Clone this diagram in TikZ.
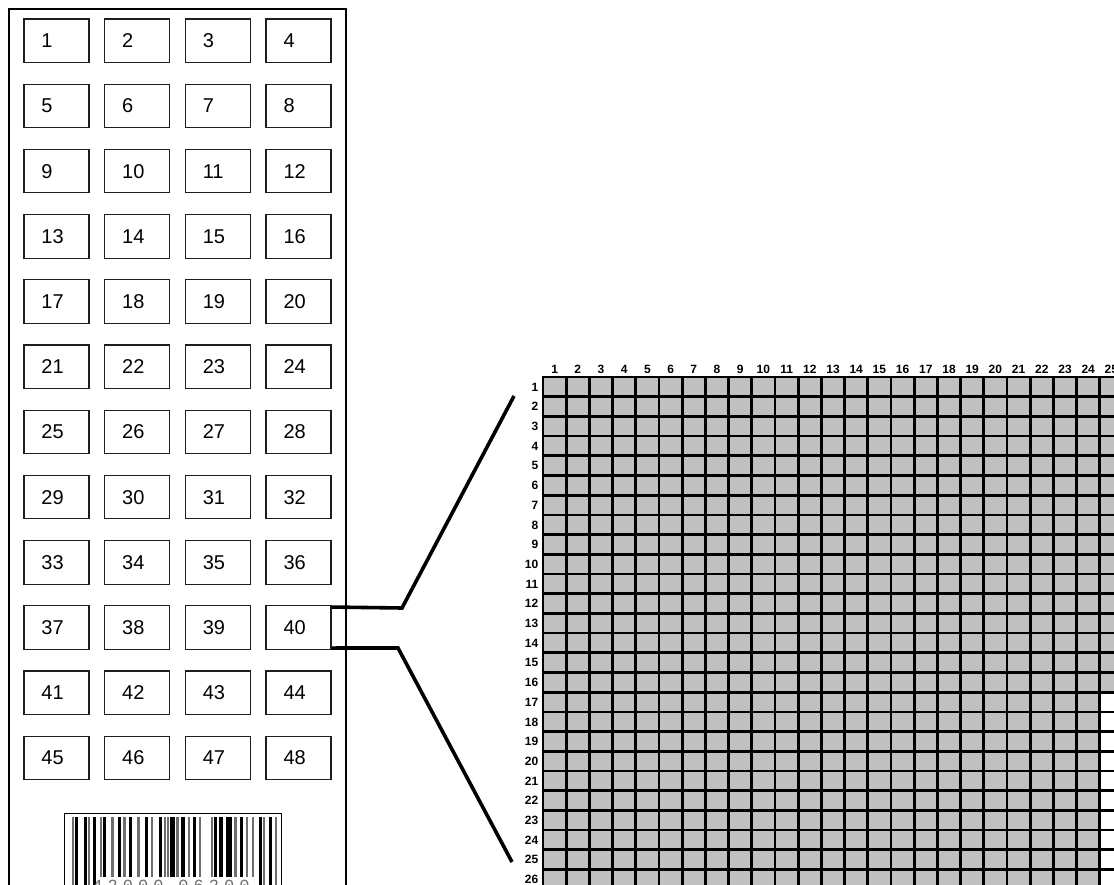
\documentclass[tikz,border=0pt]{standalone}
\usepackage{fontspec}
\setmainfont{Liberation Sans}
\newfontfamily\bcfont[LetterSpace=30]{Liberation Mono}
\definecolor{cellgray}{RGB}{192,192,192}
\definecolor{bargray}{RGB}{110,110,110}
\definecolor{boxline}{RGB}{30,30,30}
\begin{document}
\begin{tikzpicture}[x=1pt,y=-1pt,
  box/.style={draw=boxline, line width=1.1pt, minimum width=65pt, minimum height=43.5pt,
    inner xsep=17.5pt, inner ysep=0pt, text width=30pt, align=left,
    font=\fontsize{20}{24}\selectfont},
  glabel/.style={font=\bfseries\fontsize{12}{14}\selectfont, inner sep=0pt},
  gridline/.style={line width=2.7pt, black},
  conn/.style={line width=3.6pt, line join=miter, line cap=butt},
  frame/.style={line width=1.3pt},
  bctext/.style={font=\bcfont\fontsize{17}{19}\selectfont, text=bargray, inner sep=0pt, anchor=base}]
\useasboundingbox (0,0) rectangle (1114,885);
\begin{scope}
\clip (0,0) rectangle (1114,885);
% outer panel
\draw[frame] (9,900) -- (9,9) -- (346,9) -- (346,900);
% boxes 1..48
\foreach \r in {0,...,11} {
  \foreach \c in {0,...,3} {
    \pgfmathtruncatemacro\n{\r*4+\c+1}
    \node[box] (b\n) at ({56.5+\c*80.67},{40.75+\r*65.2}) {\n};
  }
}
% barcode
\draw[line width=0.9pt] (64,900) -- (64,813) -- (281,813) -- (281,900);
\foreach \x/\w/\col in {71.5/2.5/bargray,75/2.5/black,83.5/3.5/black,87.5/2/bargray,93/3/black,
  99.5/2.5/bargray,103/3/black,111/2.5/bargray,118/3/black,123/2.5/bargray,129/3/black,
  137/2.5/bargray,144.5/3/black,150.5/2.5/bargray,158.5/3.5/black,163.5/2/bargray,166.5/2/bargray,
  169.5/5/black,176/2.5/bargray,180.5/4.5/black,187.5/2.5/bargray,192.5/3/black,198.5/2/bargray,
  210.5/2.5/bargray,214/3/black,218.5/4/black,225.5/6/black,233.5/3/bargray,239.5/3/black,
  245.5/2.5/bargray,251.5/2/bargray,258.5/3/black,263/2/bargray,268.5/3/black,274.5/2.5/bargray}
  \fill[\col] (\x,817) rectangle ++(\w,80);
\fill[white] (97,877) rectangle (254,890);
\node[bctext] (bc1) at (128,891) {42000};
\node[bctext] (bc2) at (214,891) {06200};
% grid
\fill[cellgray] (543,377) rectangle (1100,900);
\fill[cellgray] (1100,377) rectangle (1123.2,692.2);
\foreach \k in {0,...,25} \draw[gridline] ({543+\k*23.2},377) -- ({543+\k*23.2},900);
\foreach \k in {0,...,26} \draw[gridline] (541.6,{377+\k*19.7}) -- (1130,{377+\k*19.7});
\foreach \k in {1,...,25} \node[glabel, anchor=base] (ch\k) at ({543+(\k-0.5)*23.2},373.5) {\k};
\foreach \k in {1,...,26} \node[glabel, anchor=base east] (rh\k) at (538.5,{377+(\k-0.5)*19.7+4.3}) {\k};
% connectors
\coordinate (ua) at (402,608);
\coordinate (ub) at (514,396);
\coordinate (la) at (398,648);
\coordinate (lb) at (512,862);
\draw[conn] ([yshift=-1.8pt]b40.north east) -- (ua) -- (ub);
\draw[conn] ([yshift=1.8pt]b40.south east) -- (la) -- (lb);
\end{scope}
\end{tikzpicture}
\end{document}
